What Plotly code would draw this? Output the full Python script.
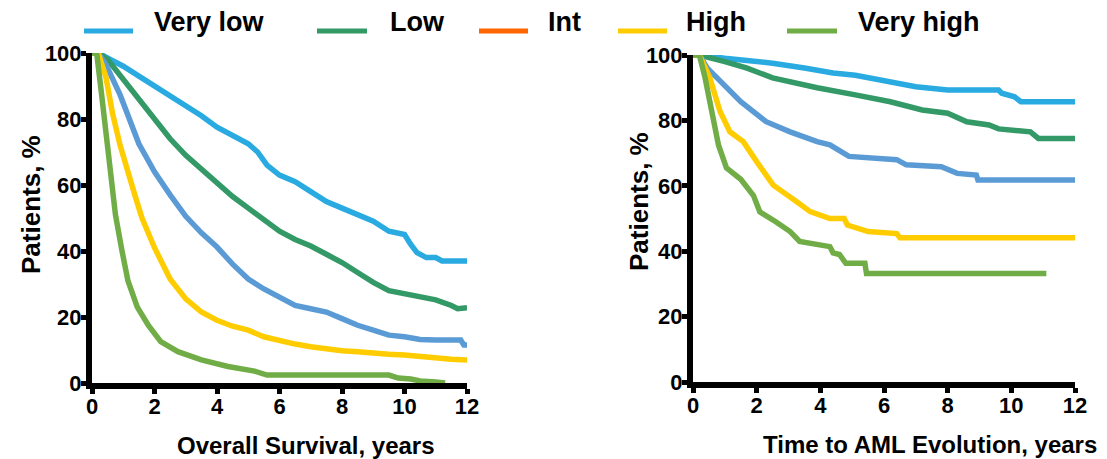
import plotly.graph_objects as go

# Risk groups, legend colours and curve colours
groups = ["Very low", "Low", "Int", "High", "Very high"]
legend_colors = ["#29ABE2", "#339966", "#FF6600", "#FFCC00", "#70AD47"]
curve_colors = ["#29ABE2", "#339966", "#5B9BD5", "#FFCC00", "#70AD47"]

# Overall survival (years, % patients)
os_t = {
    "Very low": [0, 0.2, 0.6, 1.0, 1.5, 2.0, 2.5, 3.0, 3.5, 4.0, 4.5, 5.0, 5.3, 5.6, 6.0, 6.5, 7.0,
                 7.5, 8.0, 8.5, 9.0, 9.5, 10.0, 10.2, 10.4, 10.7, 11.0, 11.2, 12.0],
    "Low": [0, 0.2, 0.5, 1.0, 1.5, 2.0, 2.5, 3.0, 3.5, 4.0, 4.5, 5.0, 5.5, 6.0, 6.5, 7.0, 7.5,
            8.0, 8.5, 9.0, 9.5, 10.0, 10.5, 11.0, 11.5, 11.7, 12.0],
    "Int": [0, 0.2, 0.45, 0.9, 1.5, 2.0, 2.5, 3.0, 3.5, 4.0, 4.5, 5.0, 5.5, 6.0, 6.5, 7.0, 7.5,
            8.0, 8.5, 9.0, 9.5, 10.0, 10.5, 11.0, 11.8, 11.9, 12.0],
    "High": [0, 0.2, 0.45, 0.65, 0.9, 1.1, 1.37, 1.6, 2.0, 2.5, 3.0, 3.5, 4.0, 4.5, 5.0, 5.5, 6.0,
             6.5, 7.0, 7.5, 8.0, 8.5, 9.0, 9.5, 10.0, 10.5, 11.0, 11.5, 12.0],
    "Very high": [0, 0.15, 0.3, 0.5, 0.75, 0.95, 1.15, 1.45, 1.8, 2.2, 2.75, 3.5, 4.35, 5.2, 5.6,
                  9.5, 9.8, 10.2, 10.5, 11.0, 11.3],
}
os_p = {
    "Very low": [100, 100, 98, 96, 93, 90, 87, 84, 81, 77.5, 75, 72.5, 70, 66, 63, 61, 58,
                 55, 53, 51, 49, 46, 45, 42, 39.5, 38, 38, 37, 37],
    "Low": [100, 100, 98, 92, 86, 79.5, 74, 69, 64.8, 60.8, 56.5, 53, 49.5, 46, 43.5, 41.5, 39,
            36.5, 33.5, 30.5, 28, 27, 26.2, 25.2, 23.5, 22.5, 22.8],
    "Int": [100, 100, 96.4, 87.3, 72.5, 64, 57, 50.5, 45.5, 41.2, 36, 31.5, 28.5, 26, 23.5, 22.5, 21.5,
            19.5, 17.5, 16, 14.5, 14, 13.2, 13, 13, 11.5, 11.5],
    "High": [100, 100, 92.5, 82, 72, 65, 57, 50, 41, 31.5, 25.5, 21.5, 19, 17.2, 16, 14, 12.8,
             11.8, 11, 10.3, 9.8, 9.5, 9, 8.7, 8.5, 8, 7.8, 7.2, 7],
    "Very high": [100, 100, 88, 73, 51, 40.5, 31, 23, 17.5, 12.5, 9.5, 7, 5, 3.6, 2.4,
                  2.4, 1.5, 1.2, 0.6, 0.3, 0],
}

# Time to AML evolution (years, % patients)
aml_t = {
    "Very low": [0, 0.2, 1.0, 1.5, 2.5, 3.5, 4.4, 5.1, 5.5, 6.5, 7.0, 8.0, 9.6, 9.7, 10.1, 10.3, 12.0],
    "Low": [0, 0.2, 1.0, 1.7, 2.5, 3.05, 3.9, 5.1, 6.2, 7.2, 8.0, 8.6, 9.3, 9.6, 10.6, 10.85, 12.0],
    "Int": [0, 0.2, 0.45, 0.75, 1.5, 2.3, 3.05, 3.9, 4.3, 4.9, 6.4, 6.7, 7.8, 8.3, 8.9, 8.95, 12.0],
    "High": [0, 0.2, 0.53, 0.85, 1.16, 1.58, 2.0, 2.52, 3.26, 3.68, 4.3, 4.75, 4.85, 5.5, 6.4, 6.5, 12.0],
    "Very high": [0, 0.2, 0.38, 0.6, 0.8, 1.05, 1.5, 1.9, 2.1, 2.6, 3.05, 3.35, 4.3, 4.4, 4.6, 4.8,
                  5.4, 5.45, 11.1],
}
aml_p = {
    "Very low": [100, 100, 99, 98.5, 97.5, 96, 94.5, 93.8, 93, 91.3, 90.3, 89.3, 89.3, 88.3, 87.2,
                 85.7, 85.7],
    "Low": [100, 100, 98, 96, 93, 91.8, 90, 87.8, 85.7, 83.2, 82.2, 79.6, 78.6, 77.4, 76.5, 74.5, 74.5],
    "Int": [100, 100, 96, 93, 85.7, 79.6, 76.5, 73.5, 72.5, 69, 68, 66.4, 65.8, 63.8, 63.3,
            61.8, 61.8],
    "High": [100, 100, 93, 82.7, 76.5, 73.5, 67.4, 60.2, 55.1, 52.1, 50, 50, 48, 46, 45.4, 44.1, 44.1],
    "Very high": [100, 100, 93, 82.5, 72.5, 65.5, 62, 57, 52, 49, 46, 43, 41.4, 39.5, 39, 36.3,
                  36.3, 33.2, 33.2],
}

x_ticks = [0, 2, 4, 6, 8, 10, 12]
y_ticks = [0, 20, 40, 60, 80, 100]

W, H = 1107, 459
FONT = "Liberation Sans, Arial, sans-serif"


def px(x):
    return x / W


def py(y):
    return (H - y) / H


fig = go.Figure()

for name, ccol in zip(groups, curve_colors):
    fig.add_trace(go.Scatter(x=os_t[name], y=os_p[name], mode="lines", name=name,
                             line=dict(color=ccol, width=5.5), showlegend=False,
                             xaxis="x", yaxis="y", hoverinfo="skip"))
    fig.add_trace(go.Scatter(x=aml_t[name], y=aml_p[name], mode="lines", name=name,
                             line=dict(color=ccol, width=5.5), showlegend=False,
                             xaxis="x2", yaxis="y2", hoverinfo="skip"))

axis_common = dict(
    showline=True, linecolor="black", linewidth=6, ticks="outside", ticklen=5,
    tickwidth=5, tickcolor="black", showgrid=False, zeroline=False,
    tickfont=dict(family=FONT, size=22, color="black", weight="bold"),
)

# legend row across the top: swatch segment followed by the group name
legend_swatch_x = [(84, 133), (317, 367), (479, 528), (618, 667), (787, 837)]
legend_text_x = [152, 388, 546, 684, 856]
shapes = []
annotations = []
for name, lcol, (x0, x1), tx in zip(groups, legend_colors, legend_swatch_x, legend_text_x):
    shapes.append(dict(type="line", xref="paper", yref="paper", x0=px(x0), x1=px(x1),
                       y0=py(31), y1=py(31), line=dict(color=lcol, width=5)))
    annotations.append(dict(text=name, x=px(tx), y=py(22), xref="paper", yref="paper",
                            xanchor="left", yanchor="middle", showarrow=False,
                            font=dict(family=FONT, size=27, color="black", weight="bold")))

title_font = dict(family=FONT, size=26, color="black", weight="bold")
xtitle_font = dict(family=FONT, size=24, color="black", weight="bold")
annotations += [
    dict(text="Patients, %", textangle=-90, x=px(31), y=py(205), xref="paper", yref="paper",
         xanchor="center", yanchor="middle", showarrow=False, font=title_font),
    dict(text="Patients, %", textangle=-90, x=px(639), y=py(202), xref="paper", yref="paper",
         xanchor="center", yanchor="middle", showarrow=False, font=title_font),
    dict(text="Overall Survival, years", x=px(306), y=py(445), xref="paper", yref="paper",
         xanchor="center", yanchor="middle", showarrow=False, font=xtitle_font),
    dict(text="Time to AML Evolution, years", x=px(930), y=py(444), xref="paper", yref="paper",
         xanchor="center", yanchor="middle", showarrow=False, font=xtitle_font),
]

fig.update_layout(
    width=W, height=H,
    margin=dict(l=0, r=0, t=0, b=0, autoexpand=False),
    paper_bgcolor="white", plot_bgcolor="white",
    showlegend=False,
    xaxis=dict(domain=[px(92), px(467)], range=[0, 12], tickvals=x_ticks, anchor="y",
               ticklabelstandoff=-6, **axis_common),
    yaxis=dict(domain=[py(383), py(53)], range=[0, 100], tickvals=y_ticks, anchor="x",
               ticklabelstandoff=-5, **axis_common),
    xaxis2=dict(domain=[px(693), px(1075)], range=[0, 12], tickvals=x_ticks, anchor="y2",
                ticklabelstandoff=-6, **axis_common),
    yaxis2=dict(domain=[py(382), py(55)], range=[0, 100], tickvals=y_ticks, anchor="x2",
                ticklabelstandoff=-5, **axis_common),
    shapes=shapes,
    annotations=annotations,
)

fig.write_html("out.html")
